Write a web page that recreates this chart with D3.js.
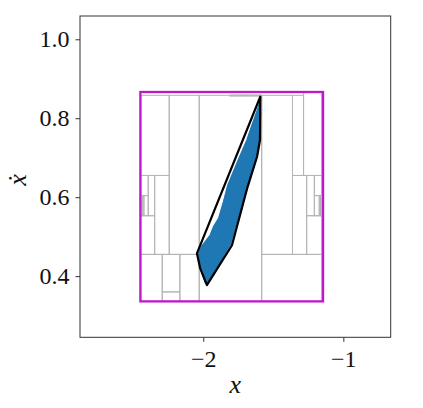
<!DOCTYPE html>
<html>
<head>
<meta charset="utf-8">
<script src="https://cdn.jsdelivr.net/npm/d3@7/dist/d3.min.js"></script>
<style>
	body { margin: 0; background: #fff; }
</style>
</head>
<body>
<div id="vis"></div>
<script>

// axis ticks
var xTicks = [-2, -1];
var yTicks = [0.4, 0.6, 0.8, 1.0];

// visible data range
var xDomain = [-2.88, -0.662];
var yDomain = [0.245, 1.059];

// initial box (magenta) : [x0, x1, y0, y1]
var initBox = [-2.449, -1.145, 0.336, 0.8665];

// partition cells : [x0, x1, y0, y1]
var cells = [
	[-2.445, -2.243, 0.655, 0.858],
	[-2.243, -2.029, 0.455, 0.858],
	[-2.029, -1.583, 0.336, 0.858],
	[-1.583, -1.363, 0.455, 0.858],
	[-1.363, -1.284, 0.655, 0.858],
	[-1.284, -1.155, 0.655, 0.866],
	[-1.810, -1.700, 0.856, 0.859],
	[-1.700, -1.583, 0.856, 0.859],
	// left middle
	[-2.347, -2.243, 0.455, 0.655],
	[-2.445, -2.347, 0.455, 0.553],
	[-2.393, -2.347, 0.553, 0.655],
	[-2.445, -2.393, 0.604, 0.655],
	[-2.424, -2.393, 0.553, 0.604],
	[-2.445, -2.436, 0.553, 0.578],
	[-2.445, -2.436, 0.578, 0.604],
	[-2.436, -2.424, 0.553, 0.604],
	// bottom left
	[-2.445, -2.293, 0.336, 0.455],
	[-2.293, -2.167, 0.360, 0.455],
	[-2.293, -2.167, 0.336, 0.360],
	[-2.167, -2.029, 0.336, 0.455],
	// bottom right
	[-1.583, -1.155, 0.336, 0.455],
	// right middle
	[-1.363, -1.262, 0.455, 0.655],
	[-1.262, -1.155, 0.455, 0.553],
	[-1.262, -1.207, 0.553, 0.655],
	[-1.207, -1.155, 0.604, 0.655],
	[-1.207, -1.172, 0.553, 0.604],
	[-1.172, -1.163, 0.553, 0.604],
	[-1.163, -1.155, 0.553, 0.578],
	[-1.163, -1.155, 0.578, 0.604]
];

// sampled states (outline of the blue point cloud)
var sampleX = [-1.595, -1.592, -1.599, -1.624, -1.691, -1.749, -1.806, -1.888, -1.970, -1.984,
	-2.020, -2.035, -2.010, -1.950, -1.924, -1.890, -1.855, -1.824, -1.756, -1.688, -1.664, -1.631, -1.605];
var sampleY = [0.8485, 0.808, 0.7448, 0.7017, 0.6256, 0.552, 0.4823, 0.4329, 0.3847, 0.3834,
	0.4202, 0.4532, 0.476, 0.5039, 0.5267, 0.5462, 0.5883, 0.6307, 0.689, 0.7448, 0.7701, 0.803, 0.8292];

// reachable set hull (black)
var hullX = [-1.593, -1.595, -1.616, -1.684, -1.795, -1.974, -2.022, -2.045];
var hullY = [0.8545, 0.7448, 0.7024, 0.6256, 0.4785, 0.3771, 0.4195, 0.4575];

var serif = "Liberation Serif";

// set margins to the graph
var margin = {top: 16, right: 32.3, bottom: 70.7, left: 80};
var W = 423, H = 408;
var width = W - margin.left - margin.right;
var height = H - margin.top - margin.bottom;

var svg = d3.select("#vis")
	.append("svg")
	.attr("width", W)
	.attr("height", H);

var g = svg.append("g")
	.attr("transform", "translate(" + margin.left + "," + margin.top + ")");

var x = d3.scaleLinear().domain(xDomain).range([0, width]);
var y = d3.scaleLinear().domain(yDomain).range([height, 0]);

// partition rectangles
g.selectAll(".cell")
	.data(cells)
	.enter()
	.append("rect")
	.attr("class", "cell")
	.attr("x", function(d) { return x(d[0]); })
	.attr("y", function(d) { return y(d[3]); })
	.attr("width", function(d) { return x(d[1]) - x(d[0]); })
	.attr("height", function(d) { return y(d[2]) - y(d[3]); })
	.style("fill", "none")
	.style("stroke", "#b4b4b4")
	.style("stroke-width", 1);

// initial set
g.append("rect")
	.attr("x", x(initBox[0]))
	.attr("y", y(initBox[3]))
	.attr("width", x(initBox[1]) - x(initBox[0]))
	.attr("height", y(initBox[2]) - y(initBox[3]))
	.style("fill", "none")
	.style("stroke", "#bf18c8")
	.style("stroke-width", 2.3);

var line = d3.line()
	.x(function(d) { return x(d[0]); })
	.y(function(d) { return y(d[1]); })
	.curve(d3.curveLinearClosed);

// point cloud
var samples = sampleX.map(function(v, i) { return [v, sampleY[i]]; });
g.append("path")
	.attr("d", line(samples))
	.style("fill", "#1f77b4")
	.style("stroke", "#1f77b4")
	.style("stroke-width", 1.5)
	.style("stroke-linejoin", "round");

// hull
var hull = hullX.map(function(v, i) { return [v, hullY[i]]; });
g.append("path")
	.attr("d", line(hull))
	.style("fill", "none")
	.style("stroke", "#000")
	.style("stroke-width", 2.2)
	.style("stroke-linejoin", "round");

// axes
var xAxis = g.append("g")
	.attr("transform", "translate(0," + height + ")")
	.call(d3.axisBottom(x).tickValues(xTicks).tickSize(4.5).tickPadding(6).tickFormat(d3.format("d")));

var yAxis = g.append("g")
	.call(d3.axisLeft(y).tickValues(yTicks).tickSize(4.5).tickPadding(6).tickFormat(d3.format(".1f")));

[xAxis, yAxis].forEach(function(a) {
	a.attr("font-family", serif).attr("font-size", 24);
	a.select(".domain").remove();
	a.selectAll(".tick line").style("stroke", "#333").style("stroke-width", 1);
	a.selectAll(".tick text")
		.attr("font-family", serif)
		.style("fill", "#111");
});
xAxis.selectAll(".tick text").attr("dy", "0.8em");

// frame
g.append("rect")
	.attr("width", width)
	.attr("height", height)
	.style("fill", "none")
	.style("stroke", "#333")
	.style("stroke-width", 1);

// axis labels
svg.append("text")
	.attr("x", margin.left + width / 2)
	.attr("y", 393)
	.attr("text-anchor", "middle")
	.attr("font-family", serif)
	.style("font-style", "italic")
	.style("font-size", "26px")
	.style("fill", "#111")
	.text("x");

svg.append("text")
	.attr("transform", "translate(26,180) rotate(-90)")
	.attr("text-anchor", "middle")
	.attr("font-family", serif)
	.style("font-style", "italic")
	.style("font-size", "26px")
	.style("fill", "#111")
	.text("\u1E8B");

</script>
</body>
</html>
